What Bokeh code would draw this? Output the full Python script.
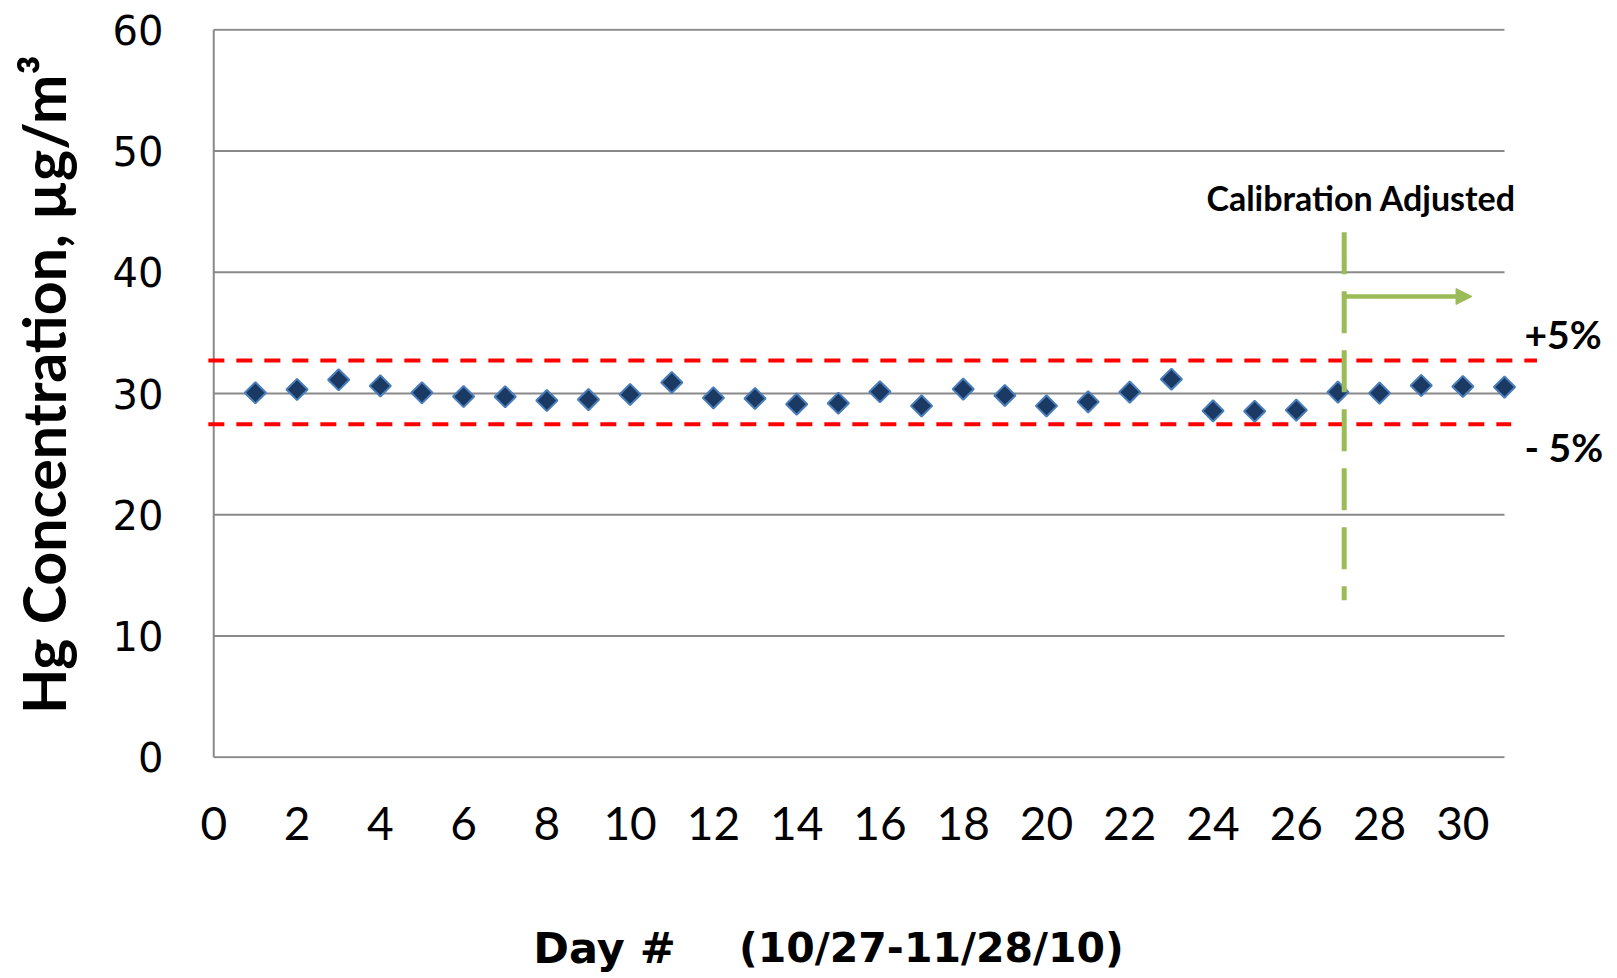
import math
from bokeh.plotting import figure
from bokeh.models import Range1d, FixedTicker, Label, Arrow, NormalHead
from bokeh.embed import file_html
from bokeh.resources import INLINE

# ---- data ----
days = list(range(1, 32))
hg = [30.06, 30.33, 31.13, 30.63, 30.06, 29.75, 29.73, 29.42, 29.50, 29.92,
      30.91, 29.64, 29.59, 29.12, 29.20, 30.14, 28.98, 30.36, 29.84, 28.98,
      29.31, 30.11, 31.18, 28.57, 28.54, 28.63, 30.11, 30.03, 30.66, 30.58, 30.53]
x_ticks = list(range(0, 31, 2))
y_ticks = [0, 10, 20, 30, 40, 50, 60]
x_max = 31
limit_values = [32.72, 27.47]
limit_labels = ["+5%", "- 5%"]
limit_label_y = [34.9, 25.55]
limit_ends = [31.78, 31.16]
calib_day = 27.15
calib_top, calib_bottom = 43.3, 12.95
arrow_y = 38.0
arrow_end = 30.22

GREEN = "#9BBB59"
GRID = "#898989"

p = figure(width=1616, height=978,
           x_range=Range1d(-0.15, 33.69), y_range=Range1d(-0.1, 60.1),
           output_backend="svg", toolbar_location=None,
           min_border_left=207, min_border_right=0,
           min_border_top=28, min_border_bottom=220)
p.xgrid.visible = False
p.ygrid.visible = False
p.outline_line_color = None
p.background_fill_color = "white"
p.border_fill_color = "white"

# axes
p.xaxis.ticker = FixedTicker(ticks=x_ticks)
p.xaxis.axis_line_color = None
p.xaxis.major_tick_line_color = None
p.xaxis.minor_tick_line_color = None
p.xaxis.major_label_text_font = "Lato"
p.xaxis.major_label_text_font_size = "46px"
p.xaxis.major_label_text_color = "black"
p.xaxis.major_label_standoff = 42

p.yaxis.ticker = FixedTicker(ticks=y_ticks)
p.yaxis.axis_line_color = None
p.yaxis.major_tick_line_color = None
p.yaxis.minor_tick_line_color = None
p.yaxis.major_label_text_font = "DejaVu Sans"
p.yaxis.major_label_text_font_size = "40px"
p.yaxis.major_label_text_color = "black"
p.yaxis.major_label_standoff = 38

# axis titles (placed in the side panels so that they are not clipped by the frame)
p.add_layout(Label(x=-4.08, y=30.74, angle=math.pi / 2, text="Hg Concentration, µg/m³",
                   text_align="center", text_baseline="alphabetic", text_font="Lato",
                   text_font_style="bold", text_font_size="59px", text_color="black"), "left")
p.add_layout(Label(x=7.675, y=-15.75, text="Day #", text_align="left",
                   text_baseline="alphabetic", text_font="DejaVu Sans", text_font_style="bold",
                   text_font_size="43px", text_color="black"), "below")
p.add_layout(Label(x=12.616, y=-15.75, text="(10/27-11/28/10)", text_align="left",
                   text_baseline="alphabetic", text_font="DejaVu Sans", text_font_style="bold",
                   text_font_size="41px", text_color="black"), "below")

# gridlines and axis line
p.segment(x0=[0] * len(y_ticks), y0=y_ticks, x1=[x_max] * len(y_ticks), y1=y_ticks,
          line_color=GRID, line_width=2)
p.segment(x0=[0], y0=[y_ticks[0]], x1=[0], y1=[y_ticks[-1]], line_color=GRID, line_width=2)

# data
p.scatter(days, hg, marker="square", angle=math.pi / 4, size=15,
          fill_color="#1B3A63", line_color="#4A7EBB", line_width=2)

# +/-5% limits
p.segment(x0=[-0.13] * len(limit_values), y0=limit_values, x1=limit_ends, y1=limit_values,
          line_color="#FF0000", line_width=4, line_dash="16 12")

# calibration line and arrow
p.segment(x0=[calib_day], y0=[calib_top], x1=[calib_day], y1=[calib_bottom],
          line_color=GREEN, line_width=5, line_dash="42 17")
p.add_layout(Arrow(end=NormalHead(size=16, fill_color=GREEN, line_color=GREEN, line_width=1),
                   x_start=calib_day, y_start=arrow_y, x_end=arrow_end, y_end=arrow_y,
                   line_color=GREEN, line_width=4.5))

# labels
p.add_layout(Label(x=27.56, y=46.14, text="Calibration Adjusted", text_align="center",
                   text_baseline="alphabetic", text_font="Lato", text_font_style="bold",
                   text_font_size="34px", text_color="black"))
for txt, ly in zip(limit_labels, limit_label_y):
    p.add_layout(Label(x=31.48, y=ly, text=txt, text_align="left", text_baseline="alphabetic",
                       text_font="Lato", text_font_style="bold", text_font_size="39px",
                       text_color="black"))

open("out.html", "w").write(file_html(p, INLINE))
